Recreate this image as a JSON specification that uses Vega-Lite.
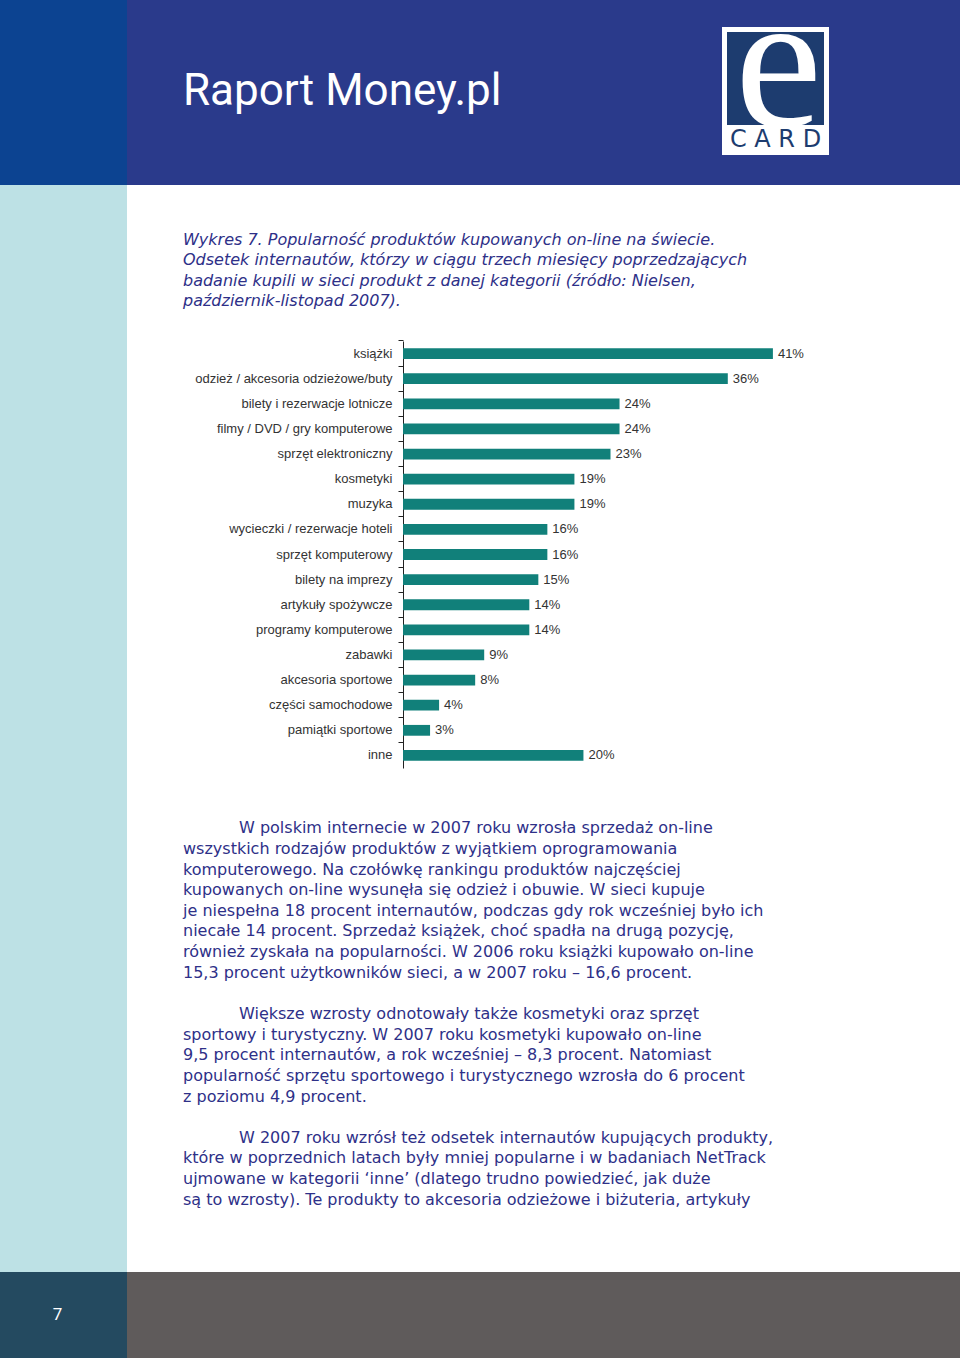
{
  "$schema": "https://vega.github.io/schema/vega-lite/v6.json",
  "padding": 0,
  "background": "white",
  "spacing": 0,
  "config": {"view": {"stroke": null}, "concat": {"spacing": 0}},
  "vconcat": [
    {
      "spacing": 0,
      "hconcat": [
        {"width": 127, "height": 185, "view": {"fill": "#0c4391", "stroke": null}, "data": {"values": [{}]}, "mark": {"type": "point", "opacity": 0, "size": 0}},
        {"width": 595, "height": 185, "view": {"fill": "#2a3a8b", "stroke": null},
         "title": {"text": "Raport Money.pl", "anchor": "start", "frame": "group", "orient": "top", "offset": -114, "dx": 56, "baseline": "top", "color": "white", "font": "Roboto", "fontSize": 44, "fontWeight": "normal"},
         "data": {"values": [{}]}, "mark": {"type": "point", "opacity": 0, "size": 0}},
        {
          "spacing": 0,
          "vconcat": [
            {"width": 107, "height": 27, "view": {"fill": "#2a3a8b", "stroke": null}, "data": {"values": [{}]}, "mark": {"type": "point", "opacity": 0, "size": 0}},
            {"width": 107, "height": 5, "view": {"fill": "white", "stroke": null}, "data": {"values": [{}]}, "mark": {"type": "point", "opacity": 0, "size": 0}},
            {
              "spacing": 0,
              "hconcat": [
                {"width": 5, "height": 93, "view": {"fill": "white", "stroke": null}, "data": {"values": [{}]}, "mark": {"type": "point", "opacity": 0, "size": 0}},
                {"width": 97, "height": 93, "view": {"fill": "#1d3c6f", "stroke": null}, "data": {"values": [{"t": "e"}]},
                 "mark": {"type": "text", "clip": true, "font": "Liberation Serif", "fontSize": 196, "baseline": "middle", "dy": -12, "dx": 3, "color": "white"},
                 "encoding": {"text": {"field": "t"}}},
                {"width": 5, "height": 93, "view": {"fill": "white", "stroke": null}, "data": {"values": [{}]}, "mark": {"type": "point", "opacity": 0, "size": 0}}
              ]
            },
            {"width": 107, "height": 30, "view": {"fill": "white", "stroke": null}, "data": {"values": [{"t": "C A R D"}]},
             "mark": {"type": "text", "font": "DejaVu Sans", "fontSize": 24, "baseline": "middle", "color": "#1d3c6f"},
             "encoding": {"text": {"field": "t"}}},
            {"width": 107, "height": 30, "view": {"fill": "#2a3a8b", "stroke": null}, "data": {"values": [{}]}, "mark": {"type": "point", "opacity": 0, "size": 0}}
          ]
        },
        {"width": 131, "height": 185, "view": {"fill": "#2a3a8b", "stroke": null}, "data": {"values": [{}]}, "mark": {"type": "point", "opacity": 0, "size": 0}}
      ]
    },
    {
      "spacing": 0,
      "hconcat": [
        {"width": 127, "height": 1087, "view": {"fill": "#bde1e5", "stroke": null}, "data": {"values": [{}]}, "mark": {"type": "point", "opacity": 0, "size": 0}},
        {
          "spacing": 0,
          "vconcat": [
            {"width": 1, "height": 46, "data": {"values": [{}]}, "mark": {"type": "point", "opacity": 0, "size": 0}},
            {
              "spacing": 0,
              "hconcat": [
                {"width": 1, "height": 1, "data": {"values": [{}]}, "mark": {"type": "point", "opacity": 0, "size": 0}},
                {
                  "width": 406,
                  "height": 427,
                  "title": {
                    "text": [
                      "Wykres 7. Popularność produktów kupowanych on-line na świecie.",
                      "Odsetek internautów, którzy w ciągu trzech miesięcy poprzedzających",
                      "badanie kupili w sieci produkt z danej kategorii (źródło: Nielsen,",
                      "październik-listopad 2007)."
                    ],
                    "anchor": "start", "frame": "bounds", "dx": 55, "offset": 30,
                    "font": "DejaVu Sans", "fontSize": 16, "fontStyle": "italic", "fontWeight": "normal",
                    "color": "#2e3088", "lineHeight": 20.6
                  },
                  "data": {
                    "values": [
                      {"kategoria": "książki", "udzial": 0.41},
                      {"kategoria": "odzież / akcesoria odzieżowe/buty", "udzial": 0.36},
                      {"kategoria": "bilety i rezerwacje lotnicze", "udzial": 0.24},
                      {"kategoria": "filmy / DVD / gry komputerowe", "udzial": 0.24},
                      {"kategoria": "sprzęt elektroniczny", "udzial": 0.23},
                      {"kategoria": "kosmetyki", "udzial": 0.19},
                      {"kategoria": "muzyka", "udzial": 0.19},
                      {"kategoria": "wycieczki / rezerwacje hoteli", "udzial": 0.16},
                      {"kategoria": "sprzęt komputerowy", "udzial": 0.16},
                      {"kategoria": "bilety na imprezy", "udzial": 0.15},
                      {"kategoria": "artykuły spożywcze", "udzial": 0.14},
                      {"kategoria": "programy komputerowe", "udzial": 0.14},
                      {"kategoria": "zabawki", "udzial": 0.09},
                      {"kategoria": "akcesoria sportowe", "udzial": 0.08},
                      {"kategoria": "części samochodowe", "udzial": 0.04},
                      {"kategoria": "pamiątki sportowe", "udzial": 0.03},
                      {"kategoria": "inne", "udzial": 0.20}
                    ]
                  },
                  "encoding": {
                    "y": {
                      "field": "kategoria", "type": "nominal", "sort": null, "title": null,
                      "scale": {"paddingInner": 0.57, "paddingOuter": 0.285},
                      "axis": {"minExtent": 275, "maxExtent": 275, "labelFont": "Liberation Sans", "labelFontSize": 13, "labelColor": "#333333", "labelPadding": 6, "labelLimit": 300, "tickSize": 5, "tickColor": "#222222", "domainColor": "#222222", "bandPosition": -0.663}
                    },
                    "x": {"field": "udzial", "type": "quantitative", "scale": {"domain": [0, 0.45]}, "axis": null}
                  },
                  "layer": [
                    {"mark": {"type": "bar", "color": "#11807a"}},
                    {"mark": {"type": "text", "align": "left", "baseline": "middle", "dx": 5, "font": "Liberation Sans", "fontSize": 13, "color": "#333333"},
                     "encoding": {"text": {"field": "udzial", "type": "quantitative", "format": ".0%"}}}
                  ]
                }
              ]
            },
            {"width": 1, "height": 50, "data": {"values": [{}]}, "mark": {"type": "point", "opacity": 0, "size": 0}},
            {
              "spacing": 0,
              "hconcat": [
                {"width": 56, "height": 1, "data": {"values": [{}]}, "mark": {"type": "point", "opacity": 0, "size": 0}},
                {
                  "width": 600,
                  "height": {"step": 20.63},
                  "data": {
                    "values": [
                      {"i": 0, "t": "\u200b\u2003\u2003\u2003\u2002W polskim internecie w 2007 roku wzrosła sprzedaż on-line"},
                      {"i": 1, "t": "wszystkich rodzajów produktów z wyjątkiem oprogramowania"},
                      {"i": 2, "t": "komputerowego. Na czołówkę rankingu produktów najczęściej"},
                      {"i": 3, "t": "kupowanych on-line wysunęła się odzież i obuwie. W sieci kupuje"},
                      {"i": 4, "t": "je niespełna 18 procent internautów, podczas gdy rok wcześniej było ich"},
                      {"i": 5, "t": "niecałe 14 procent. Sprzedaż książek, choć spadła na drugą pozycję,"},
                      {"i": 6, "t": "również zyskała na popularności. W 2006 roku książki kupowało on-line"},
                      {"i": 7, "t": "15,3 procent użytkowników sieci, a w 2007 roku – 16,6 procent."},
                      {"i": 8, "t": ""},
                      {"i": 9, "t": "\u200b\u2003\u2003\u2003\u2002Większe wzrosty odnotowały także kosmetyki oraz sprzęt"},
                      {"i": 10, "t": "sportowy i turystyczny. W 2007 roku kosmetyki kupowało on-line"},
                      {"i": 11, "t": "9,5 procent internautów, a rok wcześniej – 8,3 procent. Natomiast"},
                      {"i": 12, "t": "popularność sprzętu sportowego i turystycznego wzrosła do 6 procent"},
                      {"i": 13, "t": "z poziomu 4,9 procent."},
                      {"i": 14, "t": ""},
                      {"i": 15, "t": "\u200b\u2003\u2003\u2003\u2002W 2007 roku wzrósł też odsetek internautów kupujących produkty,"},
                      {"i": 16, "t": "które w poprzednich latach były mniej popularne i w badaniach NetTrack"},
                      {"i": 17, "t": "ujmowane w kategorii ‘inne’ (dlatego trudno powiedzieć, jak duże"},
                      {"i": 18, "t": "są to wzrosty). Te produkty to akcesoria odzieżowe i biżuteria, artykuły"}
                    ]
                  },
                  "mark": {"type": "text", "align": "left", "baseline": "middle", "font": "DejaVu Sans", "fontSize": 16, "color": "#2e3088"},
                  "encoding": {
                    "y": {"field": "i", "type": "ordinal", "axis": null},
                    "x": {"datum": 0, "type": "quantitative", "scale": {"domain": [0, 1]}, "axis": null},
                    "text": {"field": "t"}
                  }
                }
              ]
            }
          ]
        }
      ]
    },
    {
      "spacing": 0,
      "hconcat": [
        {"width": 127, "height": 86, "view": {"fill": "#244a60", "stroke": null}, "data": {"values": [{"p": "7"}]},
         "mark": {"type": "text", "font": "Roboto", "fontSize": 17, "baseline": "middle", "dx": -6, "color": "white"},
         "encoding": {"text": {"field": "p"}}},
        {"width": 833, "height": 86, "view": {"fill": "#5f5b5b", "stroke": null}, "data": {"values": [{}]}, "mark": {"type": "point", "opacity": 0, "size": 0}}
      ]
    }
  ]
}
